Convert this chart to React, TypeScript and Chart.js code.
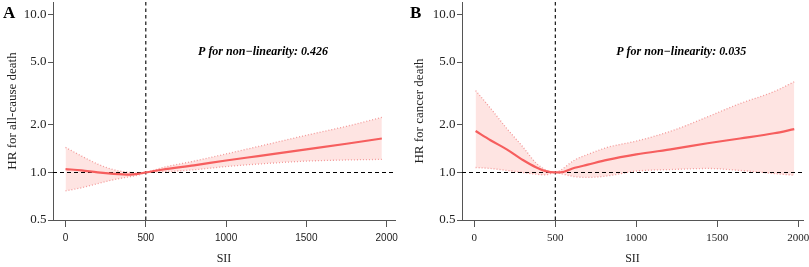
import React, { useEffect, useRef } from "react";
import { Chart, registerables } from "chart.js";

Chart.register(...registerables);

// ---- data ----
const xTicks = [0, 500, 1000, 1500, 2000];
const yTicks = [0.5, 1, 2, 5, 10];
const refSII = 500;
const refHR = 1;

// Panel A: all-cause death
const siiA = [0, 100, 200, 300, 400, 450, 500, 600, 800, 1000, 1200, 1500, 1750, 1970];
const hrA = [1.05, 1.03, 1.0, 0.98, 0.97, 0.98, 1.0, 1.04, 1.11, 1.19, 1.27, 1.4, 1.52, 1.64];
const upperA = [1.44, 1.27, 1.13, 1.04, 1.0, 0.99, 1.0, 1.07, 1.18, 1.31, 1.46, 1.72, 1.96, 2.23];
const lowerA = [0.765, 0.8, 0.85, 0.9, 0.94, 0.96, 1.0, 1.01, 1.04, 1.09, 1.13, 1.18, 1.2, 1.21];

// Panel B: cancer death
const siiB = [8, 100, 200, 300, 380, 440, 500, 530, 620, 700, 820, 1000, 1230, 1440, 1640, 1850, 1975];
const hrB = [1.83, 1.6, 1.4, 1.2, 1.08, 1.02, 1.0, 1.0, 1.07, 1.12, 1.2, 1.3, 1.41, 1.53, 1.64, 1.77, 1.88];
const upperB = [3.3, 2.55, 1.9, 1.45, 1.15, 1.04, 1.0, 1.03, 1.2, 1.3, 1.44, 1.58, 1.85, 2.25, 2.73, 3.25, 3.75];
const lowerB = [1.075, 1.06, 1.03, 1.0, 0.975, 0.965, 1.0, 0.985, 0.94, 0.93, 0.95, 1.02, 1.045, 1.06, 1.03, 0.985, 0.96];

const labelA = "A";
const labelB = "B";
const yTitleA = "HR for all-cause death";
const yTitleB = "HR for cancer death";
const xTitle = "SII";
const pTextA = "P for non\u2212linearity: 0.426";
const pTextB = "P for non\u2212linearity: 0.035";

const SERIF = '"Liberation Serif", "Times New Roman", serif';
const SANS = '"Liberation Sans", Arial, sans-serif';

const LINE_COLOR = "#F65E5E";
const CI_COLOR = "#F39A9A";
const BAND_COLOR = "rgba(248, 118, 109, 0.2)";
const AXIS_COLOR = "#555";
const TEXT_COLOR = "#222";

type PanelCfg = {
  sii: number[];
  hr: number[];
  upper: number[];
  lower: number[];
  letter: string;
  yTitle: string;
  pText: string;
  xMin: number;
  xMax: number;
  yAxisWidth: number;
  yTitlePad: number;
  padRight: number;
  xTickFont: any;
  letterX: number;
  pX: number;
  pY: number;
};

function makeConfig(c: PanelCfg): any {
  const pts = (ys: number[]) => c.sii.map((x, i) => ({ x, y: ys[i] }));
  const textPlugin = {
    id: "panelText",
    afterDraw(chart: any) {
      const ctx = chart.ctx;
      ctx.save();
      ctx.fillStyle = "#000";
      ctx.textBaseline = "middle";
      ctx.textAlign = "left";
      ctx.font = `bold 17px ${SERIF}`;
      ctx.fillText(c.letter, c.letterX, 13.5);
      ctx.textAlign = "center";
      ctx.font = `bold italic 12px ${SERIF}`;
      ctx.fillText(
        c.pText,
        chart.scales.x.getPixelForValue(c.pX),
        chart.scales.y.getPixelForValue(c.pY)
      );
      ctx.restore();
    },
  };
  return {
    type: "line",
    data: {
      datasets: [
        {
          data: pts(c.hr),
          borderColor: LINE_COLOR,
          borderWidth: 2.2,
          pointRadius: 0,
          cubicInterpolationMode: "monotone",
          fill: false,
          order: 0,
        },
        {
          data: [
            { x: c.xMin, y: refHR },
            { x: c.xMax, y: refHR },
          ],
          borderColor: "#000",
          borderWidth: 1.1,
          borderDash: [4, 3],
          pointRadius: 0,
          fill: false,
          order: 1,
        },
        {
          data: [
            { x: refSII, y: 0.5 },
            { x: refSII, y: 12 },
          ],
          borderColor: "#000",
          borderWidth: 1.1,
          borderDash: [3.5, 3],
          pointRadius: 0,
          fill: false,
          order: 1,
        },
        {
          data: pts(c.upper),
          borderColor: CI_COLOR,
          borderWidth: 1.3,
          borderDash: [1, 2],
          pointRadius: 0,
          cubicInterpolationMode: "monotone",
          backgroundColor: BAND_COLOR,
          fill: "+1",
          order: 3,
        },
        {
          data: pts(c.lower),
          borderColor: CI_COLOR,
          borderWidth: 1.3,
          borderDash: [1, 2],
          pointRadius: 0,
          cubicInterpolationMode: "monotone",
          fill: false,
          order: 2,
        },
      ],
    },
    options: {
      animation: false,
      responsive: false,
      devicePixelRatio: 1,
      layout: { padding: { left: 0, right: c.padRight, top: 2, bottom: 0 } },
      plugins: {
        legend: { display: false },
        tooltip: { enabled: false },
        title: { display: false },
      },
      scales: {
        x: {
          type: "linear",
          min: c.xMin,
          max: c.xMax,
          afterBuildTicks: (scale: any) => {
            scale.ticks = xTicks.map((v) => ({ value: v }));
          },
          afterFit: (scale: any) => {
            scale.height = 47;
            scale.paddingLeft = 0;
            scale.paddingRight = 0;
          },
          grid: {
            display: true,
            drawOnChartArea: false,
            drawTicks: true,
            tickLength: 7,
            color: AXIS_COLOR,
          },
          border: { display: true, color: AXIS_COLOR, width: 1 },
          ticks: {
            autoSkip: false,
            maxRotation: 0,
            padding: 5,
            color: TEXT_COLOR,
            font: c.xTickFont,
            callback: (v: any) => String(v),
          },
          title: {
            display: true,
            text: xTitle,
            color: TEXT_COLOR,
            font: { family: SERIF, size: 12 },
            padding: { top: 0, bottom: 1 },
          },
        },
        y: {
          type: "logarithmic",
          min: 0.5,
          max: 12,
          afterBuildTicks: (scale: any) => {
            scale.ticks = yTicks.map((v) => ({ value: v }));
          },
          afterFit: (scale: any) => {
            scale.width = c.yAxisWidth;
            scale.paddingTop = 0;
            scale.paddingBottom = 0;
          },
          grid: {
            display: true,
            drawOnChartArea: false,
            drawTicks: true,
            tickLength: 5,
            color: AXIS_COLOR,
          },
          border: { display: true, color: AXIS_COLOR, width: 1 },
          ticks: {
            autoSkip: false,
            padding: 1.5,
            color: TEXT_COLOR,
            font: { family: SERIF, size: 13 },
            callback: (v: any) => Number(v).toFixed(1),
          },
          title: {
            display: true,
            text: c.yTitle,
            color: TEXT_COLOR,
            font: { family: SERIF, size: 13 },
            padding: { top: c.yTitlePad, bottom: 0 },
          },
        },
      },
    },
    plugins: [textPlugin],
  };
}

function Panel({ cfg, left }: { cfg: PanelCfg; left: number }) {
  const ref = useRef<HTMLCanvasElement | null>(null);
  useEffect(() => {
    if (!ref.current) return;
    const chart = new Chart(ref.current, makeConfig(cfg));
    return () => chart.destroy();
  }, [cfg]);
  return (
    <canvas
      ref={ref}
      width={404}
      height={267}
      style={{ position: "absolute", left, top: 0, width: 404, height: 267 }}
    />
  );
}

const cfgA: PanelCfg = {
  sii: siiA,
  hr: hrA,
  upper: upperA,
  lower: lowerA,
  letter: labelA,
  yTitle: yTitleA,
  pText: pTextA,
  xMin: -78,
  xMax: 2052,
  yAxisWidth: 53,
  yTitlePad: 5,
  padRight: 9,
  xTickFont: { family: SANS, size: 10 },
  letterX: 3,
  pX: 1230,
  pY: 5.8,
};

const cfgB: PanelCfg = {
  sii: siiB,
  hr: hrB,
  upper: upperB,
  lower: lowerB,
  letter: labelB,
  yTitle: yTitleB,
  pText: pTextB,
  xMin: -76,
  xMax: 2029,
  yAxisWidth: 57,
  yTitlePad: 7,
  padRight: 6,
  xTickFont: { family: SERIF, size: 11 },
  letterX: 5,
  pX: 1277,
  pY: 5.8,
};

export default function App() {
  return (
    <div
      style={{
        position: "absolute",
        left: 0,
        top: 0,
        width: 809,
        height: 267,
        background: "#fff",
        overflow: "hidden",
      }}
    >
      <Panel cfg={cfgA} left={0} />
      <Panel cfg={cfgB} left={405} />
    </div>
  );
}
